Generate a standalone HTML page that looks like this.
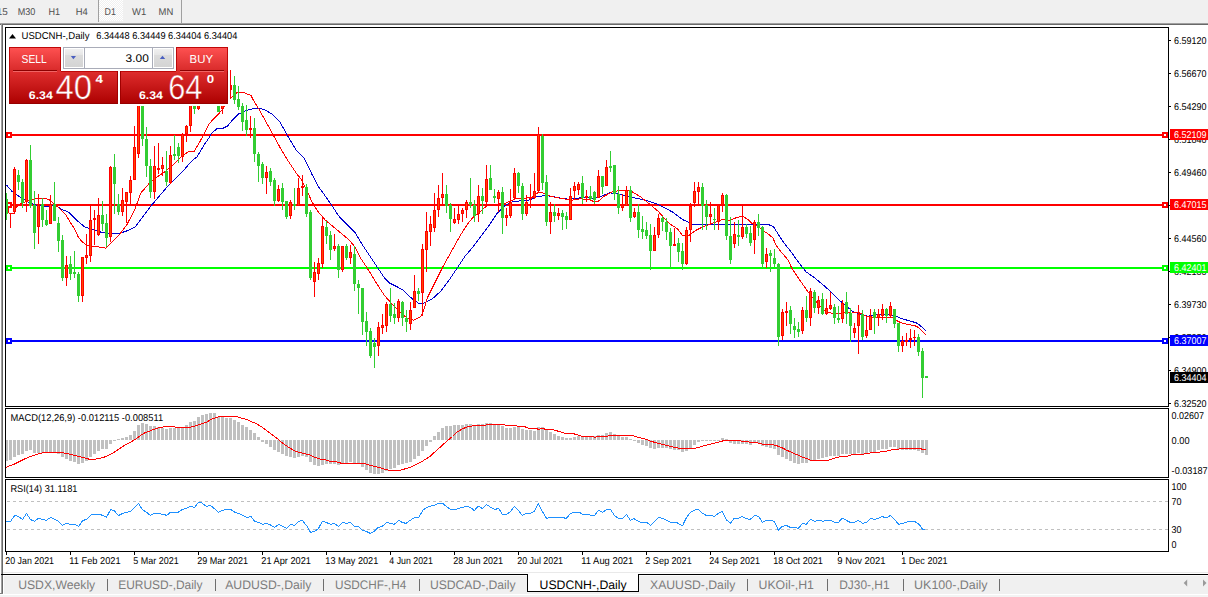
<!DOCTYPE html>
<html><head><meta charset="utf-8"><title>USDCNH Daily</title>
<style>html,body{margin:0;padding:0;background:#fff;overflow:hidden}svg{display:block}text{font-family:"Liberation Sans",sans-serif}</style></head>
<body>
<svg width="1208" height="597" viewBox="0 0 1208 597" font-family="Liberation Sans, sans-serif" text-rendering="geometricPrecision">
<defs><linearGradient id="gbtn" x1="0" y1="0" x2="0" y2="1"><stop offset="0" stop-color="#ff5252"/><stop offset="1" stop-color="#d82a2a"/></linearGradient><linearGradient id="gprice" gradientUnits="userSpaceOnUse" x1="0" y1="71" x2="0" y2="104"><stop offset="0" stop-color="#df2e2e"/><stop offset="1" stop-color="#ac0000"/></linearGradient><linearGradient id="gspin" x1="0" y1="0" x2="0" y2="1"><stop offset="0" stop-color="#f0f0f0"/><stop offset="0.33" stop-color="#e6e6e6"/><stop offset="0.34" stop-color="#dcdcdc"/><stop offset="1" stop-color="#d4d4d4"/></linearGradient><pattern id="chk" width="2" height="2" patternUnits="userSpaceOnUse"><rect width="2" height="2" fill="#f0f0f0"/><rect width="1" height="1" fill="#fff"/><rect x="1" y="1" width="1" height="1" fill="#fff"/></pattern><clipPath id="cm"><rect x="6" y="28" width="1162" height="378"/></clipPath><clipPath id="c2"><rect x="6" y="409" width="1162" height="68"/></clipPath><clipPath id="c3"><rect x="6" y="480" width="1162" height="71"/></clipPath></defs>
<rect x="0" y="0" width="1208" height="597" fill="#ffffff" />
<g shape-rendering="crispEdges">
<rect x="0" y="0" width="1208" height="23" fill="#f0f0f0" />
<rect x="0" y="23" width="1208" height="1" fill="#a0a0a0" />
<rect x="0" y="24" width="1208" height="1" fill="#696969" />
<rect x="0" y="25" width="1" height="550" fill="#ffffff" />
<rect x="1" y="23" width="1" height="571" fill="#a0a0a0" />
<rect x="2" y="24" width="1" height="570" fill="#696969" />
<rect x="3" y="575" width="1205" height="19" fill="#f0f0f0" />
<rect x="3" y="575" width="1205" height="1" fill="#fbfbfb" />
<rect x="0" y="594" width="1208" height="1" fill="#ffffff" />
<rect x="0" y="595" width="1208" height="2" fill="#f3f3f3" />
<rect x="3" y="572" width="1205" height="1" fill="#e9e9e9" />
<rect x="1" y="574" width="1207" height="1" fill="#000000" />
<rect x="3" y="575" width="1" height="19" fill="#ffffff" />
<rect x="0" y="593" width="3" height="1" fill="#808080" />
<rect x="5" y="27" width="1164" height="1" fill="#000" />
<rect x="5" y="406" width="1164" height="1" fill="#000" />
<rect x="5" y="27" width="1" height="380" fill="#000" />
<rect x="1168" y="27" width="1" height="380" fill="#000" />
<rect x="5" y="408" width="1164" height="1" fill="#000" />
<rect x="5" y="477" width="1164" height="1" fill="#000" />
<rect x="5" y="408" width="1" height="70" fill="#000" />
<rect x="1168" y="408" width="1" height="70" fill="#000" />
<rect x="5" y="479" width="1164" height="1" fill="#000" />
<rect x="5" y="551" width="1164" height="1" fill="#000" />
<rect x="5" y="479" width="1" height="73" fill="#000" />
<rect x="1168" y="479" width="1" height="73" fill="#000" />
</g>
<g clip-path="url(#cm)">
<rect x="6" y="134" width="1162" height="2" fill="#ff0000" shape-rendering="crispEdges"/>
<rect x="6" y="204" width="1162" height="2" fill="#ff0000" shape-rendering="crispEdges"/>
<rect x="6" y="267" width="1162" height="2" fill="#00ff00" shape-rendering="crispEdges"/>
<rect x="6" y="340" width="1162" height="2" fill="#0000ff" shape-rendering="crispEdges"/>
<rect x="6" y="132" width="6" height="6" fill="#ff0000" shape-rendering="crispEdges"/>
<rect x="8" y="134" width="2" height="2" fill="#fff" shape-rendering="crispEdges"/>
<rect x="1162" y="132" width="6" height="6" fill="#ff0000" shape-rendering="crispEdges"/>
<rect x="1164" y="134" width="2" height="2" fill="#fff" shape-rendering="crispEdges"/>
<rect x="6" y="202" width="6" height="6" fill="#ff0000" shape-rendering="crispEdges"/>
<rect x="8" y="204" width="2" height="2" fill="#fff" shape-rendering="crispEdges"/>
<rect x="1162" y="202" width="6" height="6" fill="#ff0000" shape-rendering="crispEdges"/>
<rect x="1164" y="204" width="2" height="2" fill="#fff" shape-rendering="crispEdges"/>
<rect x="6" y="265" width="6" height="6" fill="#00ff00" shape-rendering="crispEdges"/>
<rect x="8" y="267" width="2" height="2" fill="#fff" shape-rendering="crispEdges"/>
<rect x="1162" y="265" width="6" height="6" fill="#00ff00" shape-rendering="crispEdges"/>
<rect x="1164" y="267" width="2" height="2" fill="#fff" shape-rendering="crispEdges"/>
<rect x="6" y="338" width="6" height="6" fill="#0000ff" shape-rendering="crispEdges"/>
<rect x="8" y="340" width="2" height="2" fill="#fff" shape-rendering="crispEdges"/>
<rect x="1162" y="338" width="6" height="6" fill="#0000ff" shape-rendering="crispEdges"/>
<rect x="1164" y="340" width="2" height="2" fill="#fff" shape-rendering="crispEdges"/>
<polyline fill="none" stroke="#0000cd" stroke-width="1" stroke-linejoin="round" shape-rendering="crispEdges" points="6.7,185.2 12.0,191.3 20.0,197.2 28.1,202.0 36.2,205.3 44.2,206.6 55.0,205.3 61.6,209.3 68.3,212.0 76.4,220.0 84.4,226.7 92.5,229.4 100.5,232.0 110.0,234.0 119.3,233.5 127.3,230.7 135.4,226.7 143.4,216.0 151.5,205.3 159.5,195.9 167.5,186.5 175.6,178.5 183.6,170.4 191.7,161.0 197.0,157.0 205.0,143.6 208.3,138.9 211.5,133.5 216.9,128.7 223.3,128.1 227.6,126.0 233.0,119.5 238.4,114.1 243.8,111.5 250.0,109.3 256.0,108.2 264.0,109.3 272.1,114.1 280.1,122.2 288.2,136.9 296.2,150.3 304.3,158.4 312.3,175.0 318.0,186.0 322.8,192.5 330.8,204.0 338.9,216.2 346.9,224.2 354.9,232.3 363.0,245.7 371.0,257.7 379.0,269.8 384.4,277.9 389.8,283.2 397.8,287.2 403.2,290.0 408.6,295.8 413.9,300.0 419.3,303.9 424.6,302.8 432.7,298.5 440.7,291.3 448.8,280.5 456.8,268.5 464.9,256.4 472.9,247.0 480.9,236.3 489.0,225.6 497.0,213.5 505.0,205.5 513.1,201.4 521.2,200.9 529.2,200.1 537.2,196.6 545.3,195.5 553.3,196.6 561.4,198.2 569.4,199.3 577.5,198.2 585.5,197.4 593.5,198.2 601.6,196.1 609.6,192.9 617.7,193.6 624.0,195.5 629.6,197.1 638.2,198.5 646.7,200.5 655.3,203.3 664.0,207.4 672.4,212.0 682.4,219.5 692.5,224.2 714.3,224.5 734.4,224.2 751.1,225.0 767.9,224.2 773.7,227.0 777.9,233.7 784.6,243.8 791.3,252.1 799.3,263.4 806.0,271.8 814.4,277.6 824.4,286.0 832.8,293.6 839.5,300.3 846.2,306.1 852.9,311.6 861.3,314.5 868.0,316.2 876.3,315.0 888.0,314.5 894.7,315.3 901.4,318.7 908.1,320.4 916.5,322.9 919.9,325.4 925.7,330.4"/>
<polyline fill="none" stroke="#ff0000" stroke-width="1" stroke-linejoin="round" shape-rendering="crispEdges" points="8.5,207.5 8.5,213.0 14.0,213.0 15.7,207.6 20.7,203.9 26.0,201.5 31.6,199.7 37.5,198.3 44.2,198.3 49.2,199.7 54.2,203.9 58.4,207.6 66.0,215.2 71.0,223.5 75.2,230.0 78.0,236.5 81.7,241.5 87.1,245.5 95.2,246.3 105.9,248.2 111.2,242.8 119.3,234.8 127.3,224.0 135.4,208.0 140.7,193.2 148.8,183.8 156.8,177.1 164.9,171.8 172.9,165.0 181.0,157.0 189.0,151.1 194.4,151.1 199.7,142.0 205.0,132.4 209.3,123.8 212.6,120.0 216.9,115.8 221.2,110.9 224.0,107.0 227.9,102.0 230.0,98.5 232.0,96.9 236.2,93.1 239.5,92.1 243.7,92.2 247.0,93.9 250.8,95.2 252.9,99.4 255.4,103.6 258.7,108.8 265.4,120.8 272.1,132.9 280.1,147.6 288.2,161.0 296.2,173.1 301.6,179.8 306.7,190.0 312.0,202.0 317.4,210.8 325.4,220.2 333.5,226.9 341.5,233.6 349.6,240.3 354.9,247.0 360.3,257.7 368.3,269.8 376.4,283.2 384.4,295.3 392.5,304.7 400.5,312.7 407.2,318.1 413.9,320.2 420.6,316.7 423.3,311.4 427.3,298.0 432.7,287.2 438.0,276.5 443.4,265.8 450.1,253.7 456.8,241.7 462.2,232.3 467.5,224.2 472.9,217.5 478.3,213.5 483.6,208.2 489.0,204.7 497.0,204.1 505.0,203.6 510.4,200.9 515.8,198.8 523.8,198.2 531.9,197.4 538.6,192.0 542.6,192.9 548.0,195.5 556.0,197.4 564.0,198.8 572.1,200.1 580.1,198.8 588.2,199.3 594.9,202.0 598.9,200.9 604.3,196.1 612.3,192.0 619.0,190.7 626.8,190.0 632.5,192.0 641.0,197.1 649.6,204.2 658.1,211.3 664.0,217.8 670.7,224.5 677.4,228.7 682.4,235.4 689.1,235.4 695.8,230.4 702.5,227.0 709.2,224.5 715.9,222.0 722.6,219.5 729.3,220.6 736.0,217.8 742.7,216.1 747.8,219.5 751.1,222.8 757.8,226.2 762.8,230.4 767.9,233.7 772.9,237.9 776.2,245.4 781.3,252.1 788.0,260.0 791.9,268.3 800.5,281.1 808.5,292.7 812.7,297.7 819.4,305.3 824.4,310.3 829.4,312.8 834.5,313.7 844.5,312.8 851.2,312.0 857.9,312.3 862.9,314.5 866.3,316.2 871.3,317.0 878.0,317.8 893.0,317.8 896.4,320.4 901.4,322.9 908.1,324.5 916.5,326.2 919.9,328.7 925.7,334.6"/>
<rect x="228" y="47" width="2" height="57" fill="#fff" shape-rendering="crispEdges"/>
<g shape-rendering="crispEdges">
<rect x="6" y="193" width="1" height="27" fill="#32cd32" />
<rect x="5" y="199" width="3" height="15" fill="#32cd32" />
<rect x="10" y="213" width="1" height="15" fill="#ff0000" />
<rect x="9" y="213" width="3" height="1" fill="#ff0000" />
<rect x="14" y="167" width="1" height="47" fill="#ff0000" />
<rect x="13" y="169" width="3" height="43" fill="#ff0000" />
<rect x="14" y="170" width="1" height="41" fill="#ff4500" />
<rect x="18" y="170" width="1" height="20" fill="#32cd32" />
<rect x="17" y="175" width="3" height="7" fill="#32cd32" />
<rect x="22" y="179" width="1" height="29" fill="#32cd32" />
<rect x="21" y="182" width="3" height="21" fill="#32cd32" />
<rect x="26" y="159" width="1" height="53" fill="#ff0000" />
<rect x="25" y="160" width="3" height="42" fill="#ff0000" />
<rect x="26" y="161" width="1" height="40" fill="#ff4500" />
<rect x="30" y="145" width="1" height="63" fill="#32cd32" />
<rect x="29" y="160" width="3" height="46" fill="#32cd32" />
<rect x="34" y="191" width="1" height="58" fill="#32cd32" />
<rect x="33" y="205" width="3" height="28" fill="#32cd32" />
<rect x="38" y="194" width="1" height="50" fill="#ff0000" />
<rect x="37" y="205" width="3" height="22" fill="#ff0000" />
<rect x="38" y="206" width="1" height="20" fill="#ff4500" />
<rect x="42" y="198" width="1" height="29" fill="#32cd32" />
<rect x="41" y="204" width="3" height="16" fill="#32cd32" />
<rect x="46" y="210" width="1" height="16" fill="#32cd32" />
<rect x="45" y="220" width="3" height="5" fill="#32cd32" />
<rect x="50" y="195" width="1" height="29" fill="#ff0000" />
<rect x="49" y="204" width="3" height="20" fill="#ff0000" />
<rect x="50" y="205" width="1" height="18" fill="#ff4500" />
<rect x="54" y="182" width="1" height="39" fill="#32cd32" />
<rect x="53" y="204" width="3" height="17" fill="#32cd32" />
<rect x="58" y="217" width="1" height="35" fill="#32cd32" />
<rect x="57" y="223" width="3" height="18" fill="#32cd32" />
<rect x="62" y="235" width="1" height="46" fill="#32cd32" />
<rect x="61" y="240" width="3" height="38" fill="#32cd32" />
<rect x="66" y="256" width="1" height="30" fill="#ff0000" />
<rect x="65" y="265" width="3" height="13" fill="#ff0000" />
<rect x="66" y="266" width="1" height="11" fill="#ff4500" />
<rect x="70" y="256" width="1" height="24" fill="#32cd32" />
<rect x="69" y="264" width="3" height="10" fill="#32cd32" />
<rect x="74" y="251" width="1" height="27" fill="#32cd32" />
<rect x="73" y="272" width="3" height="2" fill="#32cd32" />
<rect x="78" y="272" width="1" height="30" fill="#32cd32" />
<rect x="77" y="274" width="3" height="22" fill="#32cd32" />
<rect x="82" y="257" width="1" height="45" fill="#ff0000" />
<rect x="81" y="257" width="3" height="39" fill="#ff0000" />
<rect x="82" y="258" width="1" height="37" fill="#ff4500" />
<rect x="86" y="234" width="1" height="30" fill="#ff0000" />
<rect x="85" y="255" width="3" height="3" fill="#ff0000" />
<rect x="86" y="256" width="1" height="1" fill="#ff4500" />
<rect x="90" y="205" width="1" height="57" fill="#ff0000" />
<rect x="89" y="220" width="3" height="36" fill="#ff0000" />
<rect x="90" y="221" width="1" height="34" fill="#ff4500" />
<rect x="94" y="210" width="1" height="35" fill="#ff0000" />
<rect x="93" y="218" width="3" height="2" fill="#ff0000" />
<rect x="98" y="198" width="1" height="38" fill="#ff0000" />
<rect x="97" y="215" width="3" height="20" fill="#ff0000" />
<rect x="98" y="216" width="1" height="18" fill="#ff4500" />
<rect x="102" y="201" width="1" height="30" fill="#32cd32" />
<rect x="101" y="215" width="3" height="9" fill="#32cd32" />
<rect x="106" y="214" width="1" height="33" fill="#32cd32" />
<rect x="105" y="223" width="3" height="15" fill="#32cd32" />
<rect x="110" y="166" width="1" height="76" fill="#ff0000" />
<rect x="109" y="167" width="3" height="70" fill="#ff0000" />
<rect x="110" y="168" width="1" height="68" fill="#ff4500" />
<rect x="114" y="154" width="1" height="60" fill="#32cd32" />
<rect x="113" y="167" width="3" height="17" fill="#32cd32" />
<rect x="118" y="194" width="1" height="21" fill="#32cd32" />
<rect x="117" y="204" width="3" height="8" fill="#32cd32" />
<rect x="122" y="188" width="1" height="28" fill="#ff0000" />
<rect x="121" y="200" width="3" height="12" fill="#ff0000" />
<rect x="122" y="201" width="1" height="10" fill="#ff4500" />
<rect x="126" y="192" width="1" height="31" fill="#ff0000" />
<rect x="125" y="192" width="3" height="10" fill="#ff0000" />
<rect x="126" y="193" width="1" height="8" fill="#ff4500" />
<rect x="130" y="176" width="1" height="30" fill="#ff0000" />
<rect x="129" y="180" width="3" height="13" fill="#ff0000" />
<rect x="130" y="181" width="1" height="11" fill="#ff4500" />
<rect x="134" y="126" width="1" height="54" fill="#ff0000" />
<rect x="133" y="147" width="3" height="33" fill="#ff0000" />
<rect x="134" y="148" width="1" height="31" fill="#ff4500" />
<rect x="138" y="95" width="1" height="63" fill="#ff0000" />
<rect x="137" y="100" width="3" height="54" fill="#ff0000" />
<rect x="138" y="101" width="1" height="52" fill="#ff4500" />
<rect x="142" y="95" width="1" height="51" fill="#32cd32" />
<rect x="141" y="100" width="3" height="39" fill="#32cd32" />
<rect x="146" y="127" width="1" height="50" fill="#32cd32" />
<rect x="145" y="139" width="3" height="27" fill="#32cd32" />
<rect x="150" y="159" width="1" height="39" fill="#32cd32" />
<rect x="149" y="166" width="3" height="26" fill="#32cd32" />
<rect x="154" y="146" width="1" height="53" fill="#ff0000" />
<rect x="153" y="166" width="3" height="26" fill="#ff0000" />
<rect x="154" y="167" width="1" height="24" fill="#ff4500" />
<rect x="158" y="143" width="1" height="31" fill="#ff0000" />
<rect x="157" y="168" width="3" height="2" fill="#ff0000" />
<rect x="162" y="157" width="1" height="19" fill="#ff0000" />
<rect x="161" y="165" width="3" height="4" fill="#ff0000" />
<rect x="162" y="166" width="1" height="2" fill="#ff4500" />
<rect x="166" y="151" width="1" height="35" fill="#32cd32" />
<rect x="165" y="171" width="3" height="11" fill="#32cd32" />
<rect x="170" y="146" width="1" height="38" fill="#ff0000" />
<rect x="169" y="155" width="3" height="28" fill="#ff0000" />
<rect x="170" y="156" width="1" height="26" fill="#ff4500" />
<rect x="174" y="135" width="1" height="25" fill="#32cd32" />
<rect x="173" y="154" width="3" height="2" fill="#32cd32" />
<rect x="178" y="143" width="1" height="20" fill="#32cd32" />
<rect x="177" y="147" width="3" height="9" fill="#32cd32" />
<rect x="182" y="133" width="1" height="29" fill="#ff0000" />
<rect x="181" y="134" width="3" height="23" fill="#ff0000" />
<rect x="182" y="135" width="1" height="21" fill="#ff4500" />
<rect x="186" y="125" width="1" height="17" fill="#ff0000" />
<rect x="185" y="126" width="3" height="8" fill="#ff0000" />
<rect x="186" y="127" width="1" height="6" fill="#ff4500" />
<rect x="190" y="95" width="1" height="37" fill="#ff0000" />
<rect x="189" y="100" width="3" height="26" fill="#ff0000" />
<rect x="190" y="101" width="1" height="24" fill="#ff4500" />
<rect x="194" y="95" width="1" height="19" fill="#32cd32" />
<rect x="193" y="100" width="3" height="9" fill="#32cd32" />
<rect x="198" y="95" width="1" height="15" fill="#ff0000" />
<rect x="197" y="100" width="3" height="9" fill="#ff0000" />
<rect x="198" y="101" width="1" height="7" fill="#ff4500" />
<rect x="218" y="95" width="1" height="17" fill="#32cd32" />
<rect x="217" y="100" width="3" height="12" fill="#32cd32" />
<rect x="222" y="95" width="1" height="19" fill="#ff0000" />
<rect x="221" y="100" width="3" height="9" fill="#ff0000" />
<rect x="222" y="101" width="1" height="7" fill="#ff4500" />
<rect x="230" y="70" width="1" height="28" fill="#ff0000" />
<rect x="230" y="85" width="2" height="5" fill="#ff0000" />
<rect x="234" y="76" width="1" height="28" fill="#32cd32" />
<rect x="233" y="85" width="3" height="15" fill="#32cd32" />
<rect x="238" y="86" width="1" height="24" fill="#32cd32" />
<rect x="237" y="99" width="3" height="8" fill="#32cd32" />
<rect x="242" y="103" width="1" height="28" fill="#32cd32" />
<rect x="241" y="106" width="3" height="16" fill="#32cd32" />
<rect x="246" y="105" width="1" height="31" fill="#32cd32" />
<rect x="245" y="120" width="3" height="10" fill="#32cd32" />
<rect x="250" y="116" width="1" height="22" fill="#ff0000" />
<rect x="249" y="128" width="3" height="2" fill="#ff0000" />
<rect x="254" y="118" width="1" height="44" fill="#32cd32" />
<rect x="253" y="128" width="3" height="26" fill="#32cd32" />
<rect x="258" y="152" width="1" height="30" fill="#32cd32" />
<rect x="257" y="154" width="3" height="12" fill="#32cd32" />
<rect x="262" y="162" width="1" height="22" fill="#32cd32" />
<rect x="261" y="164" width="3" height="14" fill="#32cd32" />
<rect x="266" y="166" width="1" height="28" fill="#ff0000" />
<rect x="265" y="172" width="3" height="6" fill="#ff0000" />
<rect x="266" y="173" width="1" height="4" fill="#ff4500" />
<rect x="270" y="168" width="1" height="18" fill="#32cd32" />
<rect x="269" y="171" width="3" height="11" fill="#32cd32" />
<rect x="274" y="178" width="1" height="28" fill="#32cd32" />
<rect x="273" y="180" width="3" height="21" fill="#32cd32" />
<rect x="278" y="185" width="1" height="17" fill="#ff0000" />
<rect x="277" y="189" width="3" height="12" fill="#ff0000" />
<rect x="278" y="190" width="1" height="10" fill="#ff4500" />
<rect x="282" y="183" width="1" height="27" fill="#32cd32" />
<rect x="281" y="188" width="3" height="14" fill="#32cd32" />
<rect x="286" y="201" width="1" height="18" fill="#32cd32" />
<rect x="285" y="201" width="3" height="16" fill="#32cd32" />
<rect x="290" y="200" width="1" height="19" fill="#ff0000" />
<rect x="289" y="202" width="3" height="14" fill="#ff0000" />
<rect x="290" y="203" width="1" height="12" fill="#ff4500" />
<rect x="294" y="188" width="1" height="22" fill="#32cd32" />
<rect x="293" y="204" width="3" height="2" fill="#32cd32" />
<rect x="298" y="178" width="1" height="28" fill="#ff0000" />
<rect x="297" y="188" width="3" height="18" fill="#ff0000" />
<rect x="298" y="189" width="1" height="16" fill="#ff4500" />
<rect x="302" y="175" width="1" height="21" fill="#ff0000" />
<rect x="301" y="186" width="3" height="2" fill="#ff0000" />
<rect x="306" y="184" width="1" height="33" fill="#32cd32" />
<rect x="305" y="187" width="3" height="27" fill="#32cd32" />
<rect x="310" y="210" width="1" height="70" fill="#32cd32" />
<rect x="309" y="212" width="3" height="66" fill="#32cd32" />
<rect x="314" y="262" width="1" height="35" fill="#ff0000" />
<rect x="313" y="272" width="3" height="10" fill="#ff0000" />
<rect x="314" y="273" width="1" height="8" fill="#ff4500" />
<rect x="318" y="258" width="1" height="22" fill="#ff0000" />
<rect x="317" y="263" width="3" height="11" fill="#ff0000" />
<rect x="318" y="264" width="1" height="9" fill="#ff4500" />
<rect x="322" y="218" width="1" height="50" fill="#ff0000" />
<rect x="321" y="226" width="3" height="38" fill="#ff0000" />
<rect x="322" y="227" width="1" height="36" fill="#ff4500" />
<rect x="326" y="221" width="1" height="23" fill="#32cd32" />
<rect x="325" y="227" width="3" height="9" fill="#32cd32" />
<rect x="330" y="231" width="1" height="29" fill="#32cd32" />
<rect x="329" y="235" width="3" height="15" fill="#32cd32" />
<rect x="334" y="234" width="1" height="17" fill="#ff0000" />
<rect x="333" y="246" width="3" height="3" fill="#ff0000" />
<rect x="334" y="247" width="1" height="1" fill="#ff4500" />
<rect x="338" y="244" width="1" height="34" fill="#32cd32" />
<rect x="337" y="246" width="3" height="24" fill="#32cd32" />
<rect x="342" y="246" width="1" height="26" fill="#ff0000" />
<rect x="341" y="246" width="3" height="24" fill="#ff0000" />
<rect x="342" y="247" width="1" height="22" fill="#ff4500" />
<rect x="346" y="244" width="1" height="16" fill="#32cd32" />
<rect x="345" y="246" width="3" height="12" fill="#32cd32" />
<rect x="350" y="245" width="1" height="19" fill="#ff0000" />
<rect x="349" y="252" width="3" height="6" fill="#ff0000" />
<rect x="350" y="253" width="1" height="4" fill="#ff4500" />
<rect x="354" y="246" width="1" height="45" fill="#32cd32" />
<rect x="353" y="254" width="3" height="30" fill="#32cd32" />
<rect x="358" y="280" width="1" height="34" fill="#32cd32" />
<rect x="357" y="284" width="3" height="4" fill="#32cd32" />
<rect x="362" y="288" width="1" height="47" fill="#32cd32" />
<rect x="361" y="288" width="3" height="34" fill="#32cd32" />
<rect x="366" y="312" width="1" height="34" fill="#32cd32" />
<rect x="365" y="321" width="3" height="11" fill="#32cd32" />
<rect x="370" y="328" width="1" height="30" fill="#32cd32" />
<rect x="369" y="331" width="3" height="25" fill="#32cd32" />
<rect x="374" y="338" width="1" height="30" fill="#32cd32" />
<rect x="373" y="343" width="3" height="4" fill="#32cd32" />
<rect x="378" y="322" width="1" height="34" fill="#ff0000" />
<rect x="377" y="327" width="3" height="19" fill="#ff0000" />
<rect x="378" y="328" width="1" height="17" fill="#ff4500" />
<rect x="382" y="314" width="1" height="20" fill="#ff0000" />
<rect x="381" y="325" width="3" height="3" fill="#ff0000" />
<rect x="382" y="326" width="1" height="1" fill="#ff4500" />
<rect x="386" y="302" width="1" height="30" fill="#ff0000" />
<rect x="385" y="304" width="3" height="22" fill="#ff0000" />
<rect x="386" y="305" width="1" height="20" fill="#ff4500" />
<rect x="390" y="288" width="1" height="34" fill="#32cd32" />
<rect x="389" y="304" width="3" height="12" fill="#32cd32" />
<rect x="394" y="303" width="1" height="21" fill="#32cd32" />
<rect x="393" y="314" width="3" height="4" fill="#32cd32" />
<rect x="398" y="299" width="1" height="23" fill="#ff0000" />
<rect x="397" y="301" width="3" height="17" fill="#ff0000" />
<rect x="398" y="302" width="1" height="15" fill="#ff4500" />
<rect x="402" y="301" width="1" height="25" fill="#32cd32" />
<rect x="401" y="302" width="3" height="16" fill="#32cd32" />
<rect x="406" y="310" width="1" height="22" fill="#32cd32" />
<rect x="405" y="318" width="3" height="4" fill="#32cd32" />
<rect x="410" y="302" width="1" height="28" fill="#ff0000" />
<rect x="409" y="310" width="3" height="14" fill="#ff0000" />
<rect x="410" y="311" width="1" height="12" fill="#ff4500" />
<rect x="414" y="275" width="1" height="33" fill="#ff0000" />
<rect x="413" y="291" width="3" height="17" fill="#ff0000" />
<rect x="414" y="292" width="1" height="15" fill="#ff4500" />
<rect x="418" y="288" width="1" height="13" fill="#32cd32" />
<rect x="417" y="291" width="3" height="3" fill="#32cd32" />
<rect x="422" y="244" width="1" height="72" fill="#ff0000" />
<rect x="421" y="249" width="3" height="44" fill="#ff0000" />
<rect x="422" y="250" width="1" height="42" fill="#ff4500" />
<rect x="426" y="212" width="1" height="60" fill="#ff0000" />
<rect x="425" y="231" width="3" height="19" fill="#ff0000" />
<rect x="426" y="232" width="1" height="17" fill="#ff4500" />
<rect x="430" y="216" width="1" height="30" fill="#ff0000" />
<rect x="429" y="224" width="3" height="8" fill="#ff0000" />
<rect x="430" y="225" width="1" height="6" fill="#ff4500" />
<rect x="434" y="193" width="1" height="39" fill="#ff0000" />
<rect x="433" y="210" width="3" height="18" fill="#ff0000" />
<rect x="434" y="211" width="1" height="16" fill="#ff4500" />
<rect x="438" y="185" width="1" height="32" fill="#ff0000" />
<rect x="437" y="198" width="3" height="12" fill="#ff0000" />
<rect x="438" y="199" width="1" height="10" fill="#ff4500" />
<rect x="442" y="173" width="1" height="31" fill="#ff0000" />
<rect x="441" y="194" width="3" height="4" fill="#ff0000" />
<rect x="442" y="195" width="1" height="2" fill="#ff4500" />
<rect x="446" y="185" width="1" height="28" fill="#32cd32" />
<rect x="445" y="194" width="3" height="12" fill="#32cd32" />
<rect x="450" y="203" width="1" height="29" fill="#32cd32" />
<rect x="449" y="205" width="3" height="14" fill="#32cd32" />
<rect x="454" y="208" width="1" height="16" fill="#ff0000" />
<rect x="453" y="219" width="3" height="4" fill="#ff0000" />
<rect x="454" y="220" width="1" height="2" fill="#ff4500" />
<rect x="458" y="206" width="1" height="18" fill="#ff0000" />
<rect x="457" y="214" width="3" height="6" fill="#ff0000" />
<rect x="458" y="215" width="1" height="4" fill="#ff4500" />
<rect x="462" y="208" width="1" height="14" fill="#ff0000" />
<rect x="461" y="210" width="3" height="4" fill="#ff0000" />
<rect x="462" y="211" width="1" height="2" fill="#ff4500" />
<rect x="466" y="200" width="1" height="18" fill="#ff0000" />
<rect x="465" y="202" width="3" height="8" fill="#ff0000" />
<rect x="466" y="203" width="1" height="6" fill="#ff4500" />
<rect x="470" y="178" width="1" height="30" fill="#32cd32" />
<rect x="469" y="202" width="3" height="3" fill="#32cd32" />
<rect x="474" y="200" width="1" height="22" fill="#32cd32" />
<rect x="473" y="205" width="3" height="11" fill="#32cd32" />
<rect x="478" y="185" width="1" height="37" fill="#ff0000" />
<rect x="477" y="196" width="3" height="18" fill="#ff0000" />
<rect x="478" y="197" width="1" height="16" fill="#ff4500" />
<rect x="482" y="188" width="1" height="26" fill="#32cd32" />
<rect x="481" y="196" width="3" height="5" fill="#32cd32" />
<rect x="486" y="165" width="1" height="39" fill="#ff0000" />
<rect x="485" y="179" width="3" height="23" fill="#ff0000" />
<rect x="486" y="180" width="1" height="21" fill="#ff4500" />
<rect x="490" y="165" width="1" height="25" fill="#32cd32" />
<rect x="489" y="178" width="3" height="12" fill="#32cd32" />
<rect x="494" y="189" width="1" height="14" fill="#32cd32" />
<rect x="493" y="196" width="3" height="2" fill="#32cd32" />
<rect x="498" y="190" width="1" height="22" fill="#ff0000" />
<rect x="497" y="192" width="3" height="7" fill="#ff0000" />
<rect x="498" y="193" width="1" height="5" fill="#ff4500" />
<rect x="502" y="187" width="1" height="47" fill="#32cd32" />
<rect x="501" y="192" width="3" height="26" fill="#32cd32" />
<rect x="506" y="208" width="1" height="18" fill="#ff0000" />
<rect x="505" y="215" width="3" height="3" fill="#ff0000" />
<rect x="506" y="216" width="1" height="1" fill="#ff4500" />
<rect x="510" y="189" width="1" height="29" fill="#ff0000" />
<rect x="509" y="202" width="3" height="14" fill="#ff0000" />
<rect x="510" y="203" width="1" height="12" fill="#ff4500" />
<rect x="514" y="168" width="1" height="32" fill="#ff0000" />
<rect x="513" y="173" width="3" height="25" fill="#ff0000" />
<rect x="514" y="174" width="1" height="23" fill="#ff4500" />
<rect x="518" y="172" width="1" height="21" fill="#32cd32" />
<rect x="517" y="173" width="3" height="13" fill="#32cd32" />
<rect x="522" y="183" width="1" height="37" fill="#32cd32" />
<rect x="521" y="186" width="3" height="28" fill="#32cd32" />
<rect x="526" y="195" width="1" height="21" fill="#ff0000" />
<rect x="525" y="202" width="3" height="12" fill="#ff0000" />
<rect x="526" y="203" width="1" height="10" fill="#ff4500" />
<rect x="530" y="184" width="1" height="24" fill="#ff0000" />
<rect x="529" y="198" width="3" height="1" fill="#ff0000" />
<rect x="534" y="173" width="1" height="26" fill="#ff0000" />
<rect x="533" y="191" width="3" height="7" fill="#ff0000" />
<rect x="534" y="192" width="1" height="5" fill="#ff4500" />
<rect x="538" y="127" width="1" height="65" fill="#ff0000" />
<rect x="537" y="134" width="3" height="57" fill="#ff0000" />
<rect x="538" y="135" width="1" height="55" fill="#ff4500" />
<rect x="542" y="134" width="1" height="56" fill="#32cd32" />
<rect x="541" y="136" width="3" height="47" fill="#32cd32" />
<rect x="546" y="175" width="1" height="51" fill="#32cd32" />
<rect x="545" y="182" width="3" height="40" fill="#32cd32" />
<rect x="550" y="202" width="1" height="32" fill="#ff0000" />
<rect x="549" y="212" width="3" height="10" fill="#ff0000" />
<rect x="550" y="213" width="1" height="8" fill="#ff4500" />
<rect x="554" y="204" width="1" height="18" fill="#32cd32" />
<rect x="553" y="212" width="3" height="4" fill="#32cd32" />
<rect x="558" y="208" width="1" height="12" fill="#ff0000" />
<rect x="557" y="213" width="3" height="3" fill="#ff0000" />
<rect x="558" y="214" width="1" height="1" fill="#ff4500" />
<rect x="562" y="210" width="1" height="20" fill="#32cd32" />
<rect x="561" y="213" width="3" height="4" fill="#32cd32" />
<rect x="566" y="212" width="1" height="17" fill="#32cd32" />
<rect x="565" y="216" width="3" height="4" fill="#32cd32" />
<rect x="570" y="188" width="1" height="32" fill="#ff0000" />
<rect x="569" y="196" width="3" height="24" fill="#ff0000" />
<rect x="570" y="197" width="1" height="22" fill="#ff4500" />
<rect x="574" y="182" width="1" height="18" fill="#ff0000" />
<rect x="573" y="186" width="3" height="5" fill="#ff0000" />
<rect x="574" y="187" width="1" height="3" fill="#ff4500" />
<rect x="578" y="182" width="1" height="13" fill="#ff0000" />
<rect x="577" y="184" width="3" height="6" fill="#ff0000" />
<rect x="578" y="185" width="1" height="4" fill="#ff4500" />
<rect x="582" y="176" width="1" height="28" fill="#32cd32" />
<rect x="581" y="183" width="3" height="15" fill="#32cd32" />
<rect x="586" y="190" width="1" height="12" fill="#ff0000" />
<rect x="585" y="196" width="3" height="2" fill="#ff0000" />
<rect x="590" y="186" width="1" height="14" fill="#32cd32" />
<rect x="589" y="196" width="3" height="3" fill="#32cd32" />
<rect x="594" y="191" width="1" height="13" fill="#32cd32" />
<rect x="593" y="192" width="3" height="8" fill="#32cd32" />
<rect x="598" y="170" width="1" height="28" fill="#ff0000" />
<rect x="597" y="176" width="3" height="22" fill="#ff0000" />
<rect x="598" y="177" width="1" height="20" fill="#ff4500" />
<rect x="602" y="176" width="1" height="18" fill="#32cd32" />
<rect x="601" y="176" width="3" height="11" fill="#32cd32" />
<rect x="606" y="160" width="1" height="26" fill="#ff0000" />
<rect x="605" y="167" width="3" height="19" fill="#ff0000" />
<rect x="606" y="168" width="1" height="17" fill="#ff4500" />
<rect x="610" y="151" width="1" height="21" fill="#32cd32" />
<rect x="609" y="166" width="3" height="2" fill="#32cd32" />
<rect x="614" y="165" width="1" height="35" fill="#32cd32" />
<rect x="613" y="165" width="3" height="29" fill="#32cd32" />
<rect x="618" y="186" width="1" height="28" fill="#32cd32" />
<rect x="617" y="194" width="3" height="14" fill="#32cd32" />
<rect x="622" y="194" width="1" height="17" fill="#ff0000" />
<rect x="621" y="205" width="3" height="3" fill="#ff0000" />
<rect x="622" y="206" width="1" height="1" fill="#ff4500" />
<rect x="626" y="186" width="1" height="20" fill="#ff0000" />
<rect x="625" y="190" width="3" height="16" fill="#ff0000" />
<rect x="626" y="191" width="1" height="14" fill="#ff4500" />
<rect x="630" y="186" width="1" height="36" fill="#32cd32" />
<rect x="629" y="190" width="3" height="28" fill="#32cd32" />
<rect x="634" y="208" width="1" height="10" fill="#ff0000" />
<rect x="633" y="212" width="3" height="5" fill="#ff0000" />
<rect x="634" y="213" width="1" height="3" fill="#ff4500" />
<rect x="638" y="204" width="1" height="34" fill="#32cd32" />
<rect x="637" y="212" width="3" height="18" fill="#32cd32" />
<rect x="642" y="216" width="1" height="23" fill="#32cd32" />
<rect x="641" y="229" width="3" height="3" fill="#32cd32" />
<rect x="646" y="222" width="1" height="17" fill="#32cd32" />
<rect x="645" y="230" width="3" height="6" fill="#32cd32" />
<rect x="650" y="224" width="1" height="46" fill="#32cd32" />
<rect x="649" y="235" width="3" height="16" fill="#32cd32" />
<rect x="654" y="227" width="1" height="24" fill="#ff0000" />
<rect x="653" y="235" width="3" height="16" fill="#ff0000" />
<rect x="654" y="236" width="1" height="14" fill="#ff4500" />
<rect x="658" y="214" width="1" height="24" fill="#ff0000" />
<rect x="657" y="218" width="3" height="17" fill="#ff0000" />
<rect x="658" y="219" width="1" height="15" fill="#ff4500" />
<rect x="662" y="216" width="1" height="15" fill="#32cd32" />
<rect x="661" y="218" width="3" height="4" fill="#32cd32" />
<rect x="666" y="218" width="1" height="22" fill="#32cd32" />
<rect x="665" y="222" width="3" height="10" fill="#32cd32" />
<rect x="670" y="228" width="1" height="40" fill="#32cd32" />
<rect x="669" y="232" width="3" height="14" fill="#32cd32" />
<rect x="674" y="228" width="1" height="18" fill="#ff0000" />
<rect x="673" y="244" width="3" height="2" fill="#ff0000" />
<rect x="678" y="238" width="1" height="24" fill="#32cd32" />
<rect x="677" y="243" width="3" height="9" fill="#32cd32" />
<rect x="682" y="243" width="1" height="27" fill="#32cd32" />
<rect x="681" y="251" width="3" height="13" fill="#32cd32" />
<rect x="686" y="227" width="1" height="38" fill="#ff0000" />
<rect x="685" y="230" width="3" height="34" fill="#ff0000" />
<rect x="686" y="231" width="1" height="32" fill="#ff4500" />
<rect x="690" y="203" width="1" height="39" fill="#ff0000" />
<rect x="689" y="206" width="3" height="24" fill="#ff0000" />
<rect x="690" y="207" width="1" height="22" fill="#ff4500" />
<rect x="694" y="182" width="1" height="25" fill="#ff0000" />
<rect x="693" y="191" width="3" height="12" fill="#ff0000" />
<rect x="694" y="192" width="1" height="10" fill="#ff4500" />
<rect x="698" y="182" width="1" height="23" fill="#ff0000" />
<rect x="697" y="187" width="3" height="5" fill="#ff0000" />
<rect x="698" y="188" width="1" height="3" fill="#ff4500" />
<rect x="702" y="183" width="1" height="47" fill="#32cd32" />
<rect x="701" y="187" width="3" height="19" fill="#32cd32" />
<rect x="706" y="200" width="1" height="30" fill="#32cd32" />
<rect x="705" y="205" width="3" height="12" fill="#32cd32" />
<rect x="710" y="202" width="1" height="22" fill="#ff0000" />
<rect x="709" y="214" width="3" height="3" fill="#ff0000" />
<rect x="710" y="215" width="1" height="1" fill="#ff4500" />
<rect x="714" y="208" width="1" height="22" fill="#32cd32" />
<rect x="713" y="219" width="3" height="1" fill="#32cd32" />
<rect x="718" y="205" width="1" height="25" fill="#ff0000" />
<rect x="717" y="205" width="3" height="17" fill="#ff0000" />
<rect x="718" y="206" width="1" height="15" fill="#ff4500" />
<rect x="722" y="193" width="1" height="19" fill="#ff0000" />
<rect x="721" y="195" width="3" height="10" fill="#ff0000" />
<rect x="722" y="196" width="1" height="8" fill="#ff4500" />
<rect x="726" y="194" width="1" height="46" fill="#32cd32" />
<rect x="725" y="195" width="3" height="41" fill="#32cd32" />
<rect x="730" y="217" width="1" height="47" fill="#32cd32" />
<rect x="729" y="236" width="3" height="24" fill="#32cd32" />
<rect x="734" y="222" width="1" height="26" fill="#ff0000" />
<rect x="733" y="234" width="3" height="10" fill="#ff0000" />
<rect x="734" y="235" width="1" height="8" fill="#ff4500" />
<rect x="738" y="220" width="1" height="26" fill="#32cd32" />
<rect x="737" y="235" width="3" height="2" fill="#32cd32" />
<rect x="742" y="205" width="1" height="34" fill="#ff0000" />
<rect x="741" y="227" width="3" height="10" fill="#ff0000" />
<rect x="742" y="228" width="1" height="8" fill="#ff4500" />
<rect x="746" y="224" width="1" height="14" fill="#32cd32" />
<rect x="745" y="227" width="3" height="7" fill="#32cd32" />
<rect x="750" y="226" width="1" height="20" fill="#32cd32" />
<rect x="749" y="233" width="3" height="10" fill="#32cd32" />
<rect x="754" y="220" width="1" height="34" fill="#ff0000" />
<rect x="753" y="222" width="3" height="18" fill="#ff0000" />
<rect x="754" y="223" width="1" height="16" fill="#ff4500" />
<rect x="758" y="214" width="1" height="22" fill="#32cd32" />
<rect x="757" y="222" width="3" height="6" fill="#32cd32" />
<rect x="762" y="226" width="1" height="42" fill="#32cd32" />
<rect x="761" y="227" width="3" height="37" fill="#32cd32" />
<rect x="766" y="248" width="1" height="20" fill="#ff0000" />
<rect x="765" y="254" width="3" height="8" fill="#ff0000" />
<rect x="766" y="255" width="1" height="6" fill="#ff4500" />
<rect x="770" y="250" width="1" height="22" fill="#32cd32" />
<rect x="769" y="253" width="3" height="3" fill="#32cd32" />
<rect x="774" y="249" width="1" height="18" fill="#32cd32" />
<rect x="773" y="258" width="3" height="6" fill="#32cd32" />
<rect x="778" y="263" width="1" height="83" fill="#32cd32" />
<rect x="777" y="264" width="3" height="73" fill="#32cd32" />
<rect x="782" y="309" width="1" height="31" fill="#ff0000" />
<rect x="781" y="312" width="3" height="24" fill="#ff0000" />
<rect x="782" y="313" width="1" height="22" fill="#ff4500" />
<rect x="786" y="302" width="1" height="24" fill="#ff0000" />
<rect x="785" y="311" width="3" height="2" fill="#ff0000" />
<rect x="790" y="306" width="1" height="28" fill="#32cd32" />
<rect x="789" y="310" width="3" height="14" fill="#32cd32" />
<rect x="794" y="318" width="1" height="20" fill="#32cd32" />
<rect x="793" y="326" width="3" height="4" fill="#32cd32" />
<rect x="798" y="322" width="1" height="15" fill="#32cd32" />
<rect x="797" y="329" width="3" height="3" fill="#32cd32" />
<rect x="802" y="307" width="1" height="27" fill="#ff0000" />
<rect x="801" y="310" width="3" height="21" fill="#ff0000" />
<rect x="802" y="311" width="1" height="19" fill="#ff4500" />
<rect x="806" y="296" width="1" height="26" fill="#32cd32" />
<rect x="805" y="310" width="3" height="8" fill="#32cd32" />
<rect x="810" y="288" width="1" height="38" fill="#ff0000" />
<rect x="809" y="291" width="3" height="27" fill="#ff0000" />
<rect x="810" y="292" width="1" height="25" fill="#ff4500" />
<rect x="814" y="290" width="1" height="23" fill="#32cd32" />
<rect x="813" y="292" width="3" height="16" fill="#32cd32" />
<rect x="818" y="296" width="1" height="18" fill="#ff0000" />
<rect x="817" y="300" width="3" height="8" fill="#ff0000" />
<rect x="818" y="301" width="1" height="6" fill="#ff4500" />
<rect x="822" y="293" width="1" height="22" fill="#32cd32" />
<rect x="821" y="299" width="3" height="15" fill="#32cd32" />
<rect x="826" y="299" width="1" height="16" fill="#ff0000" />
<rect x="825" y="308" width="3" height="6" fill="#ff0000" />
<rect x="826" y="309" width="1" height="4" fill="#ff4500" />
<rect x="830" y="292" width="1" height="18" fill="#ff0000" />
<rect x="829" y="305" width="3" height="4" fill="#ff0000" />
<rect x="830" y="306" width="1" height="2" fill="#ff4500" />
<rect x="834" y="304" width="1" height="20" fill="#32cd32" />
<rect x="833" y="307" width="3" height="11" fill="#32cd32" />
<rect x="838" y="306" width="1" height="17" fill="#32cd32" />
<rect x="837" y="318" width="3" height="2" fill="#32cd32" />
<rect x="842" y="300" width="1" height="23" fill="#ff0000" />
<rect x="841" y="303" width="3" height="16" fill="#ff0000" />
<rect x="842" y="304" width="1" height="14" fill="#ff4500" />
<rect x="846" y="292" width="1" height="32" fill="#32cd32" />
<rect x="845" y="302" width="3" height="12" fill="#32cd32" />
<rect x="850" y="308" width="1" height="34" fill="#32cd32" />
<rect x="849" y="313" width="3" height="13" fill="#32cd32" />
<rect x="854" y="323" width="1" height="15" fill="#ff0000" />
<rect x="853" y="328" width="3" height="5" fill="#ff0000" />
<rect x="854" y="329" width="1" height="3" fill="#ff4500" />
<rect x="858" y="305" width="1" height="49" fill="#ff0000" />
<rect x="857" y="314" width="3" height="12" fill="#ff0000" />
<rect x="858" y="315" width="1" height="10" fill="#ff4500" />
<rect x="862" y="310" width="1" height="30" fill="#32cd32" />
<rect x="861" y="314" width="3" height="23" fill="#32cd32" />
<rect x="866" y="316" width="1" height="22" fill="#ff0000" />
<rect x="865" y="330" width="3" height="6" fill="#ff0000" />
<rect x="866" y="331" width="1" height="4" fill="#ff4500" />
<rect x="870" y="309" width="1" height="21" fill="#ff0000" />
<rect x="869" y="316" width="3" height="14" fill="#ff0000" />
<rect x="870" y="317" width="1" height="12" fill="#ff4500" />
<rect x="874" y="309" width="1" height="25" fill="#32cd32" />
<rect x="873" y="312" width="3" height="6" fill="#32cd32" />
<rect x="878" y="309" width="1" height="17" fill="#ff0000" />
<rect x="877" y="314" width="3" height="4" fill="#ff0000" />
<rect x="878" y="315" width="1" height="2" fill="#ff4500" />
<rect x="882" y="304" width="1" height="16" fill="#ff0000" />
<rect x="881" y="309" width="3" height="7" fill="#ff0000" />
<rect x="882" y="310" width="1" height="5" fill="#ff4500" />
<rect x="886" y="308" width="1" height="15" fill="#32cd32" />
<rect x="885" y="309" width="3" height="7" fill="#32cd32" />
<rect x="890" y="302" width="1" height="16" fill="#ff0000" />
<rect x="889" y="306" width="3" height="10" fill="#ff0000" />
<rect x="890" y="307" width="1" height="8" fill="#ff4500" />
<rect x="894" y="309" width="1" height="19" fill="#32cd32" />
<rect x="893" y="309" width="3" height="15" fill="#32cd32" />
<rect x="898" y="323" width="1" height="29" fill="#32cd32" />
<rect x="897" y="323" width="3" height="23" fill="#32cd32" />
<rect x="902" y="336" width="1" height="16" fill="#ff0000" />
<rect x="901" y="341" width="3" height="5" fill="#ff0000" />
<rect x="902" y="342" width="1" height="3" fill="#ff4500" />
<rect x="906" y="333" width="1" height="13" fill="#ff0000" />
<rect x="905" y="340" width="3" height="2" fill="#ff0000" />
<rect x="910" y="329" width="1" height="19" fill="#ff0000" />
<rect x="909" y="338" width="3" height="2" fill="#ff0000" />
<rect x="914" y="330" width="1" height="16" fill="#ff0000" />
<rect x="913" y="337" width="3" height="1" fill="#ff0000" />
<rect x="918" y="334" width="1" height="22" fill="#32cd32" />
<rect x="917" y="337" width="3" height="15" fill="#32cd32" />
<rect x="922" y="348" width="1" height="50" fill="#32cd32" />
<rect x="921" y="351" width="3" height="27" fill="#32cd32" />
<rect x="925" y="376" width="3" height="2" fill="#32cd32" />
</g>
</g>
<path d="M9,38.5 L12.5,34 L16,38.5 Z" fill="#000"/>
<text x="21.5" y="39" font-size="9.9" fill="#000" textLength="68" lengthAdjust="spacingAndGlyphs" >USDCNH-,Daily</text>
<text x="96.3" y="39" font-size="9.9" fill="#000" textLength="141" lengthAdjust="spacingAndGlyphs" >6.34448 6.34449 6.34404 6.34404</text>
<g shape-rendering="crispEdges">
<rect x="8" y="45" width="222" height="61" fill="#ffffff" />
<rect x="9" y="71" width="109" height="33" fill="url(#gprice)" />
<rect x="120" y="71" width="108" height="33" fill="url(#gprice)" />
<rect x="9" y="47" width="52" height="24" fill="url(#gbtn)" />
<rect x="176" y="47" width="52" height="24" fill="url(#gbtn)" />
<rect x="9" y="47" width="52" height="1" fill="#bf0808" />
<rect x="9" y="47" width="1" height="24" fill="#bf0808" />
<rect x="60" y="47" width="1" height="24" fill="#bf0808" />
<rect x="176" y="47" width="52" height="1" fill="#bf0808" />
<rect x="176" y="47" width="1" height="24" fill="#bf0808" />
<rect x="227" y="47" width="1" height="24" fill="#bf0808" />
<rect x="61" y="71" width="57" height="1" fill="#bf0808" />
<rect x="120" y="71" width="56" height="1" fill="#bf0808" />
<rect x="9" y="71" width="1" height="33" fill="#a00000" />
<rect x="117" y="71" width="1" height="33" fill="#a00000" />
<rect x="120" y="71" width="1" height="33" fill="#a00000" />
<rect x="227" y="71" width="1" height="33" fill="#a00000" />
<rect x="9" y="103" width="109" height="1" fill="#960000" />
<rect x="120" y="103" width="108" height="1" fill="#960000" />
<rect x="13" y="70" width="44" height="1" fill="#8c0000" />
<rect x="13" y="71" width="44" height="1" fill="#f06464" />
<rect x="180" y="70" width="44" height="1" fill="#8c0000" />
<rect x="180" y="71" width="44" height="1" fill="#f06464" />
<rect x="63" y="47" width="111" height="22" fill="#a9acb8" />
<rect x="64" y="48" width="109" height="20" fill="#ffffff" />
<rect x="65" y="49" width="18" height="18" fill="url(#gspin)" />
<rect x="84" y="48" width="1" height="20" fill="#a9acb8" />
<rect x="154" y="49" width="18" height="18" fill="url(#gspin)" />
<rect x="152" y="48" width="1" height="20" fill="#a9acb8" />
</g>
<path d="M70.8,56 L76,56 L73.4,59.2 Z" fill="#4a5fc0"/>
<path d="M159.8,59 L165.2,59 L162.5,55.8 Z" fill="#4a5fc0"/>
<text x="21.6" y="62.7" font-size="11.6" fill="#fff" textLength="25.2" lengthAdjust="spacingAndGlyphs" >SELL</text>
<text x="189.6" y="62.7" font-size="11.6" fill="#fff" textLength="23.4" lengthAdjust="spacingAndGlyphs" >BUY</text>
<text x="125.6" y="61.6" font-size="11.2" fill="#000" textLength="23.2" lengthAdjust="spacingAndGlyphs" >3.00</text>
<text x="28.8" y="98.8" font-size="11" fill="#fff" font-weight="bold" textLength="24" lengthAdjust="spacingAndGlyphs" >6.34</text>
<text x="138.9" y="98.8" font-size="11" fill="#fff" font-weight="bold" textLength="24" lengthAdjust="spacingAndGlyphs" >6.34</text>
<text x="55.4" y="99.3" font-size="34.4" fill="#fff" textLength="36.5" lengthAdjust="spacingAndGlyphs" stroke="url(#gprice)" stroke-width="0.45">40</text>
<text x="168.2" y="99.3" font-size="34.4" fill="#fff" textLength="34.2" lengthAdjust="spacingAndGlyphs" stroke="url(#gprice)" stroke-width="0.45">64</text>
<text x="95.6" y="82.9" font-size="11.6" fill="#fff" font-weight="bold" textLength="7.4" lengthAdjust="spacingAndGlyphs" >4</text>
<text x="206.8" y="82.9" font-size="11.6" fill="#fff" font-weight="bold" textLength="7.4" lengthAdjust="spacingAndGlyphs" >0</text>
<g shape-rendering="crispEdges">
<rect x="1169" y="40" width="2" height="1" fill="#000" />
<rect x="1169" y="73" width="2" height="1" fill="#000" />
<rect x="1169" y="106" width="2" height="1" fill="#000" />
<rect x="1169" y="139" width="2" height="1" fill="#000" />
<rect x="1169" y="172" width="2" height="1" fill="#000" />
<rect x="1169" y="205" width="2" height="1" fill="#000" />
<rect x="1169" y="238" width="2" height="1" fill="#000" />
<rect x="1169" y="271" width="2" height="1" fill="#000" />
<rect x="1169" y="304" width="2" height="1" fill="#000" />
<rect x="1169" y="337" width="2" height="1" fill="#000" />
<rect x="1169" y="370" width="2" height="1" fill="#000" />
<rect x="1169" y="403" width="2" height="1" fill="#000" />
</g>
<text x="1174" y="43.9" font-size="9.9" fill="#000" textLength="32.5" lengthAdjust="spacingAndGlyphs" >6.59120</text>
<text x="1174" y="76.9" font-size="9.9" fill="#000" textLength="32.5" lengthAdjust="spacingAndGlyphs" >6.56670</text>
<text x="1174" y="109.9" font-size="9.9" fill="#000" textLength="32.5" lengthAdjust="spacingAndGlyphs" >6.54290</text>
<text x="1174" y="142.9" font-size="9.9" fill="#000" textLength="32.5" lengthAdjust="spacingAndGlyphs" >6.51840</text>
<text x="1174" y="175.9" font-size="9.9" fill="#000" textLength="32.5" lengthAdjust="spacingAndGlyphs" >6.49460</text>
<text x="1174" y="208.9" font-size="9.9" fill="#000" textLength="32.5" lengthAdjust="spacingAndGlyphs" >6.47080</text>
<text x="1174" y="241.9" font-size="9.9" fill="#000" textLength="32.5" lengthAdjust="spacingAndGlyphs" >6.44560</text>
<text x="1174" y="274.9" font-size="9.9" fill="#000" textLength="32.5" lengthAdjust="spacingAndGlyphs" >6.42180</text>
<text x="1174" y="307.9" font-size="9.9" fill="#000" textLength="32.5" lengthAdjust="spacingAndGlyphs" >6.39730</text>
<text x="1174" y="340.9" font-size="9.9" fill="#000" textLength="32.5" lengthAdjust="spacingAndGlyphs" >6.37350</text>
<text x="1174" y="373.9" font-size="9.9" fill="#000" textLength="32.5" lengthAdjust="spacingAndGlyphs" >6.34900</text>
<text x="1174" y="406.9" font-size="9.9" fill="#000" textLength="32.5" lengthAdjust="spacingAndGlyphs" >6.32520</text>
<rect x="1170" y="129" width="38" height="11" fill="#ff0000" shape-rendering="crispEdges"/>
<text x="1174" y="137.9" font-size="9.9" fill="#fff" textLength="32.5" lengthAdjust="spacingAndGlyphs" >6.52109</text>
<rect x="1170" y="199" width="38" height="11" fill="#ff0000" shape-rendering="crispEdges"/>
<text x="1174" y="207.9" font-size="9.9" fill="#fff" textLength="32.5" lengthAdjust="spacingAndGlyphs" >6.47015</text>
<rect x="1170" y="262" width="38" height="11" fill="#00ff00" shape-rendering="crispEdges"/>
<text x="1174" y="270.9" font-size="9.9" fill="#fff" textLength="32.5" lengthAdjust="spacingAndGlyphs" >6.42401</text>
<rect x="1170" y="335" width="38" height="11" fill="#0000ff" shape-rendering="crispEdges"/>
<text x="1174" y="343.9" font-size="9.9" fill="#fff" textLength="32.5" lengthAdjust="spacingAndGlyphs" >6.37007</text>
<rect x="1170" y="372" width="38" height="11" fill="#000" shape-rendering="crispEdges"/>
<text x="1174" y="380.9" font-size="9.9" fill="#fff" textLength="32.5" lengthAdjust="spacingAndGlyphs" >6.34404</text>
<g clip-path="url(#c2)">
<g shape-rendering="crispEdges">
<rect x="5" y="440" width="3" height="21" fill="#c0c0c0" />
<rect x="9" y="440" width="3" height="20" fill="#c0c0c0" />
<rect x="13" y="440" width="3" height="17" fill="#c0c0c0" />
<rect x="17" y="440" width="3" height="15" fill="#c0c0c0" />
<rect x="21" y="440" width="3" height="14" fill="#c0c0c0" />
<rect x="25" y="440" width="3" height="11" fill="#c0c0c0" />
<rect x="29" y="440" width="3" height="10" fill="#c0c0c0" />
<rect x="33" y="440" width="3" height="13" fill="#c0c0c0" />
<rect x="37" y="440" width="3" height="13" fill="#c0c0c0" />
<rect x="41" y="440" width="3" height="13" fill="#c0c0c0" />
<rect x="45" y="440" width="3" height="13" fill="#c0c0c0" />
<rect x="49" y="440" width="3" height="13" fill="#c0c0c0" />
<rect x="53" y="440" width="3" height="13" fill="#c0c0c0" />
<rect x="57" y="440" width="3" height="14" fill="#c0c0c0" />
<rect x="61" y="440" width="3" height="17" fill="#c0c0c0" />
<rect x="65" y="440" width="3" height="19" fill="#c0c0c0" />
<rect x="69" y="440" width="3" height="21" fill="#c0c0c0" />
<rect x="73" y="440" width="3" height="22" fill="#c0c0c0" />
<rect x="77" y="440" width="3" height="24" fill="#c0c0c0" />
<rect x="81" y="440" width="3" height="23" fill="#c0c0c0" />
<rect x="85" y="440" width="3" height="21" fill="#c0c0c0" />
<rect x="89" y="440" width="3" height="17" fill="#c0c0c0" />
<rect x="93" y="440" width="3" height="14" fill="#c0c0c0" />
<rect x="97" y="440" width="3" height="11" fill="#c0c0c0" />
<rect x="101" y="440" width="3" height="9" fill="#c0c0c0" />
<rect x="105" y="440" width="3" height="9" fill="#c0c0c0" />
<rect x="109" y="440" width="3" height="4" fill="#c0c0c0" />
<rect x="113" y="440" width="3" height="1" fill="#c0c0c0" />
<rect x="117" y="439" width="3" height="1" fill="#c0c0c0" />
<rect x="121" y="438" width="3" height="2" fill="#c0c0c0" />
<rect x="125" y="437" width="3" height="3" fill="#c0c0c0" />
<rect x="129" y="435" width="3" height="5" fill="#c0c0c0" />
<rect x="133" y="431" width="3" height="9" fill="#c0c0c0" />
<rect x="137" y="425" width="3" height="15" fill="#c0c0c0" />
<rect x="141" y="423" width="3" height="17" fill="#c0c0c0" />
<rect x="145" y="424" width="3" height="16" fill="#c0c0c0" />
<rect x="149" y="426" width="3" height="14" fill="#c0c0c0" />
<rect x="153" y="426" width="3" height="14" fill="#c0c0c0" />
<rect x="157" y="427" width="3" height="13" fill="#c0c0c0" />
<rect x="161" y="428" width="3" height="12" fill="#c0c0c0" />
<rect x="165" y="429" width="3" height="11" fill="#c0c0c0" />
<rect x="169" y="428" width="3" height="12" fill="#c0c0c0" />
<rect x="173" y="428" width="3" height="12" fill="#c0c0c0" />
<rect x="177" y="428" width="3" height="12" fill="#c0c0c0" />
<rect x="181" y="428" width="3" height="12" fill="#c0c0c0" />
<rect x="185" y="425" width="3" height="15" fill="#c0c0c0" />
<rect x="189" y="422" width="3" height="18" fill="#c0c0c0" />
<rect x="193" y="421" width="3" height="19" fill="#c0c0c0" />
<rect x="197" y="417" width="3" height="23" fill="#c0c0c0" />
<rect x="201" y="415" width="3" height="25" fill="#c0c0c0" />
<rect x="205" y="414" width="3" height="26" fill="#c0c0c0" />
<rect x="209" y="413" width="3" height="27" fill="#c0c0c0" />
<rect x="213" y="413" width="3" height="27" fill="#c0c0c0" />
<rect x="217" y="417" width="3" height="23" fill="#c0c0c0" />
<rect x="221" y="417" width="3" height="23" fill="#c0c0c0" />
<rect x="225" y="418" width="3" height="22" fill="#c0c0c0" />
<rect x="229" y="418" width="3" height="22" fill="#c0c0c0" />
<rect x="233" y="420" width="3" height="20" fill="#c0c0c0" />
<rect x="237" y="422" width="3" height="18" fill="#c0c0c0" />
<rect x="241" y="425" width="3" height="15" fill="#c0c0c0" />
<rect x="245" y="427" width="3" height="13" fill="#c0c0c0" />
<rect x="249" y="430" width="3" height="10" fill="#c0c0c0" />
<rect x="253" y="433" width="3" height="7" fill="#c0c0c0" />
<rect x="257" y="437" width="3" height="3" fill="#c0c0c0" />
<rect x="261" y="440" width="3" height="2" fill="#c0c0c0" />
<rect x="265" y="440" width="3" height="4" fill="#c0c0c0" />
<rect x="269" y="440" width="3" height="7" fill="#c0c0c0" />
<rect x="273" y="440" width="3" height="10" fill="#c0c0c0" />
<rect x="277" y="440" width="3" height="12" fill="#c0c0c0" />
<rect x="281" y="440" width="3" height="14" fill="#c0c0c0" />
<rect x="285" y="440" width="3" height="16" fill="#c0c0c0" />
<rect x="289" y="440" width="3" height="17" fill="#c0c0c0" />
<rect x="293" y="440" width="3" height="18" fill="#c0c0c0" />
<rect x="297" y="440" width="3" height="17" fill="#c0c0c0" />
<rect x="301" y="440" width="3" height="16" fill="#c0c0c0" />
<rect x="305" y="440" width="3" height="17" fill="#c0c0c0" />
<rect x="309" y="440" width="3" height="22" fill="#c0c0c0" />
<rect x="313" y="440" width="3" height="25" fill="#c0c0c0" />
<rect x="317" y="440" width="3" height="26" fill="#c0c0c0" />
<rect x="321" y="440" width="3" height="25" fill="#c0c0c0" />
<rect x="325" y="440" width="3" height="24" fill="#c0c0c0" />
<rect x="329" y="440" width="3" height="24" fill="#c0c0c0" />
<rect x="333" y="440" width="3" height="24" fill="#c0c0c0" />
<rect x="337" y="440" width="3" height="25" fill="#c0c0c0" />
<rect x="341" y="440" width="3" height="23" fill="#c0c0c0" />
<rect x="345" y="440" width="3" height="23" fill="#c0c0c0" />
<rect x="349" y="440" width="3" height="22" fill="#c0c0c0" />
<rect x="353" y="440" width="3" height="23" fill="#c0c0c0" />
<rect x="357" y="440" width="3" height="24" fill="#c0c0c0" />
<rect x="361" y="440" width="3" height="27" fill="#c0c0c0" />
<rect x="365" y="440" width="3" height="30" fill="#c0c0c0" />
<rect x="369" y="440" width="3" height="33" fill="#c0c0c0" />
<rect x="373" y="440" width="3" height="34" fill="#c0c0c0" />
<rect x="377" y="440" width="3" height="34" fill="#c0c0c0" />
<rect x="381" y="440" width="3" height="33" fill="#c0c0c0" />
<rect x="385" y="440" width="3" height="31" fill="#c0c0c0" />
<rect x="389" y="440" width="3" height="29" fill="#c0c0c0" />
<rect x="393" y="440" width="3" height="28" fill="#c0c0c0" />
<rect x="397" y="440" width="3" height="25" fill="#c0c0c0" />
<rect x="401" y="440" width="3" height="24" fill="#c0c0c0" />
<rect x="405" y="440" width="3" height="23" fill="#c0c0c0" />
<rect x="409" y="440" width="3" height="22" fill="#c0c0c0" />
<rect x="413" y="440" width="3" height="19" fill="#c0c0c0" />
<rect x="417" y="440" width="3" height="16" fill="#c0c0c0" />
<rect x="421" y="440" width="3" height="11" fill="#c0c0c0" />
<rect x="425" y="440" width="3" height="6" fill="#c0c0c0" />
<rect x="429" y="440" width="3" height="2" fill="#c0c0c0" />
<rect x="433" y="436" width="3" height="4" fill="#c0c0c0" />
<rect x="437" y="432" width="3" height="8" fill="#c0c0c0" />
<rect x="441" y="428" width="3" height="12" fill="#c0c0c0" />
<rect x="445" y="426" width="3" height="14" fill="#c0c0c0" />
<rect x="449" y="426" width="3" height="14" fill="#c0c0c0" />
<rect x="453" y="425" width="3" height="15" fill="#c0c0c0" />
<rect x="457" y="425" width="3" height="15" fill="#c0c0c0" />
<rect x="461" y="425" width="3" height="15" fill="#c0c0c0" />
<rect x="465" y="424" width="3" height="16" fill="#c0c0c0" />
<rect x="469" y="424" width="3" height="16" fill="#c0c0c0" />
<rect x="473" y="425" width="3" height="15" fill="#c0c0c0" />
<rect x="477" y="424" width="3" height="16" fill="#c0c0c0" />
<rect x="481" y="424" width="3" height="16" fill="#c0c0c0" />
<rect x="485" y="423" width="3" height="17" fill="#c0c0c0" />
<rect x="489" y="423" width="3" height="17" fill="#c0c0c0" />
<rect x="493" y="424" width="3" height="16" fill="#c0c0c0" />
<rect x="497" y="424" width="3" height="16" fill="#c0c0c0" />
<rect x="501" y="426" width="3" height="14" fill="#c0c0c0" />
<rect x="505" y="428" width="3" height="12" fill="#c0c0c0" />
<rect x="509" y="428" width="3" height="12" fill="#c0c0c0" />
<rect x="513" y="427" width="3" height="13" fill="#c0c0c0" />
<rect x="517" y="426" width="3" height="14" fill="#c0c0c0" />
<rect x="521" y="429" width="3" height="11" fill="#c0c0c0" />
<rect x="525" y="430" width="3" height="10" fill="#c0c0c0" />
<rect x="529" y="430" width="3" height="10" fill="#c0c0c0" />
<rect x="533" y="431" width="3" height="9" fill="#c0c0c0" />
<rect x="537" y="427" width="3" height="13" fill="#c0c0c0" />
<rect x="541" y="427" width="3" height="13" fill="#c0c0c0" />
<rect x="545" y="430" width="3" height="10" fill="#c0c0c0" />
<rect x="549" y="432" width="3" height="8" fill="#c0c0c0" />
<rect x="553" y="434" width="3" height="6" fill="#c0c0c0" />
<rect x="557" y="436" width="3" height="4" fill="#c0c0c0" />
<rect x="561" y="437" width="3" height="3" fill="#c0c0c0" />
<rect x="565" y="438" width="3" height="2" fill="#c0c0c0" />
<rect x="569" y="438" width="3" height="2" fill="#c0c0c0" />
<rect x="573" y="437" width="3" height="3" fill="#c0c0c0" />
<rect x="577" y="436" width="3" height="4" fill="#c0c0c0" />
<rect x="581" y="437" width="3" height="3" fill="#c0c0c0" />
<rect x="585" y="437" width="3" height="3" fill="#c0c0c0" />
<rect x="589" y="437" width="3" height="3" fill="#c0c0c0" />
<rect x="593" y="436" width="3" height="4" fill="#c0c0c0" />
<rect x="597" y="435" width="3" height="5" fill="#c0c0c0" />
<rect x="601" y="435" width="3" height="5" fill="#c0c0c0" />
<rect x="605" y="433" width="3" height="7" fill="#c0c0c0" />
<rect x="609" y="432" width="3" height="8" fill="#c0c0c0" />
<rect x="613" y="434" width="3" height="6" fill="#c0c0c0" />
<rect x="617" y="436" width="3" height="4" fill="#c0c0c0" />
<rect x="621" y="437" width="3" height="3" fill="#c0c0c0" />
<rect x="625" y="437" width="3" height="3" fill="#c0c0c0" />
<rect x="629" y="439" width="3" height="1" fill="#c0c0c0" />
<rect x="633" y="440" width="3" height="1" fill="#c0c0c0" />
<rect x="637" y="440" width="3" height="3" fill="#c0c0c0" />
<rect x="641" y="440" width="3" height="5" fill="#c0c0c0" />
<rect x="645" y="440" width="3" height="6" fill="#c0c0c0" />
<rect x="649" y="440" width="3" height="8" fill="#c0c0c0" />
<rect x="653" y="440" width="3" height="9" fill="#c0c0c0" />
<rect x="657" y="440" width="3" height="8" fill="#c0c0c0" />
<rect x="661" y="440" width="3" height="8" fill="#c0c0c0" />
<rect x="665" y="440" width="3" height="8" fill="#c0c0c0" />
<rect x="669" y="440" width="3" height="9" fill="#c0c0c0" />
<rect x="673" y="440" width="3" height="10" fill="#c0c0c0" />
<rect x="677" y="440" width="3" height="10" fill="#c0c0c0" />
<rect x="681" y="440" width="3" height="12" fill="#c0c0c0" />
<rect x="685" y="440" width="3" height="11" fill="#c0c0c0" />
<rect x="689" y="440" width="3" height="8" fill="#c0c0c0" />
<rect x="693" y="440" width="3" height="5" fill="#c0c0c0" />
<rect x="697" y="440" width="3" height="2" fill="#c0c0c0" />
<rect x="701" y="440" width="3" height="1" fill="#c0c0c0" />
<rect x="705" y="440" width="3" height="1" fill="#c0c0c0" />
<rect x="709" y="440" width="3" height="1" fill="#c0c0c0" />
<rect x="713" y="440" width="3" height="1" fill="#c0c0c0" />
<rect x="717" y="440" width="3" height="1" fill="#c0c0c0" />
<rect x="721" y="438" width="3" height="2" fill="#c0c0c0" />
<rect x="725" y="439" width="3" height="1" fill="#c0c0c0" />
<rect x="729" y="440" width="3" height="3" fill="#c0c0c0" />
<rect x="733" y="440" width="3" height="4" fill="#c0c0c0" />
<rect x="737" y="440" width="3" height="4" fill="#c0c0c0" />
<rect x="741" y="440" width="3" height="4" fill="#c0c0c0" />
<rect x="745" y="440" width="3" height="4" fill="#c0c0c0" />
<rect x="749" y="440" width="3" height="5" fill="#c0c0c0" />
<rect x="753" y="440" width="3" height="3" fill="#c0c0c0" />
<rect x="757" y="440" width="3" height="3" fill="#c0c0c0" />
<rect x="761" y="440" width="3" height="6" fill="#c0c0c0" />
<rect x="765" y="440" width="3" height="7" fill="#c0c0c0" />
<rect x="769" y="440" width="3" height="8" fill="#c0c0c0" />
<rect x="773" y="440" width="3" height="9" fill="#c0c0c0" />
<rect x="777" y="440" width="3" height="15" fill="#c0c0c0" />
<rect x="781" y="440" width="3" height="17" fill="#c0c0c0" />
<rect x="785" y="440" width="3" height="19" fill="#c0c0c0" />
<rect x="789" y="440" width="3" height="21" fill="#c0c0c0" />
<rect x="793" y="440" width="3" height="23" fill="#c0c0c0" />
<rect x="797" y="440" width="3" height="24" fill="#c0c0c0" />
<rect x="801" y="440" width="3" height="23" fill="#c0c0c0" />
<rect x="805" y="440" width="3" height="23" fill="#c0c0c0" />
<rect x="809" y="440" width="3" height="21" fill="#c0c0c0" />
<rect x="813" y="440" width="3" height="20" fill="#c0c0c0" />
<rect x="817" y="440" width="3" height="19" fill="#c0c0c0" />
<rect x="821" y="440" width="3" height="18" fill="#c0c0c0" />
<rect x="825" y="440" width="3" height="17" fill="#c0c0c0" />
<rect x="829" y="440" width="3" height="16" fill="#c0c0c0" />
<rect x="833" y="440" width="3" height="16" fill="#c0c0c0" />
<rect x="837" y="440" width="3" height="16" fill="#c0c0c0" />
<rect x="841" y="440" width="3" height="14" fill="#c0c0c0" />
<rect x="845" y="440" width="3" height="14" fill="#c0c0c0" />
<rect x="849" y="440" width="3" height="14" fill="#c0c0c0" />
<rect x="853" y="440" width="3" height="14" fill="#c0c0c0" />
<rect x="857" y="440" width="3" height="13" fill="#c0c0c0" />
<rect x="861" y="440" width="3" height="14" fill="#c0c0c0" />
<rect x="865" y="440" width="3" height="13" fill="#c0c0c0" />
<rect x="869" y="440" width="3" height="12" fill="#c0c0c0" />
<rect x="873" y="440" width="3" height="12" fill="#c0c0c0" />
<rect x="877" y="440" width="3" height="10" fill="#c0c0c0" />
<rect x="881" y="440" width="3" height="9" fill="#c0c0c0" />
<rect x="885" y="440" width="3" height="9" fill="#c0c0c0" />
<rect x="889" y="440" width="3" height="7" fill="#c0c0c0" />
<rect x="893" y="440" width="3" height="7" fill="#c0c0c0" />
<rect x="897" y="440" width="3" height="9" fill="#c0c0c0" />
<rect x="901" y="440" width="3" height="10" fill="#c0c0c0" />
<rect x="905" y="440" width="3" height="10" fill="#c0c0c0" />
<rect x="909" y="440" width="3" height="10" fill="#c0c0c0" />
<rect x="913" y="440" width="3" height="10" fill="#c0c0c0" />
<rect x="917" y="440" width="3" height="11" fill="#c0c0c0" />
<rect x="921" y="440" width="3" height="13" fill="#c0c0c0" />
<rect x="925" y="440" width="3" height="15" fill="#c0c0c0" />
</g>
<polyline fill="none" stroke="#ff0000" stroke-width="1" stroke-linejoin="round" shape-rendering="crispEdges" points="6.0,467.6 10.0,465.6 14.0,464.3 18.0,462.3 22.0,460.3 26.0,458.3 30.0,456.6 34.0,455.3 38.0,454.0 42.0,453.0 46.0,452.4 50.0,452.4 54.0,452.4 58.0,452.4 62.0,452.4 66.0,453.4 70.0,454.3 74.0,455.3 78.0,456.3 82.0,457.3 86.0,458.3 90.0,459.4 94.0,459.4 98.0,458.7 102.0,457.7 106.0,456.6 110.0,454.7 114.0,452.4 118.0,449.7 122.0,447.1 126.0,444.4 130.0,442.4 134.0,440.2 138.0,437.5 142.0,434.5 146.0,432.2 150.0,430.9 154.0,429.2 158.0,427.9 162.0,427.5 164.0,426.5 170.0,426.5 177.2,427.2 183.9,427.5 190.5,427.2 195.8,425.9 201.1,423.9 206.4,422.2 211.7,419.2 217.0,417.3 221.0,416.3 227.6,416.2 235.5,416.3 240.8,417.9 246.1,419.2 251.4,421.6 256.7,423.9 262.0,427.2 267.3,431.2 272.6,435.1 277.9,439.1 283.2,443.7 288.5,447.1 293.8,450.4 299.1,452.4 304.4,453.7 309.7,455.0 315.0,457.3 320.3,459.0 324.0,459.5 329.3,461.0 335.9,461.6 341.2,463.2 350.5,463.4 363.7,463.4 369.0,464.9 374.3,466.3 379.6,467.6 384.9,469.3 390.2,470.5 399.5,470.5 404.8,468.9 410.1,467.6 416.7,464.3 423.3,460.7 430.0,456.3 436.6,450.4 443.2,444.4 448.5,439.8 452.5,436.5 456.5,432.5 461.7,429.2 467.0,426.9 472.3,425.9 477.6,425.6 484.0,425.2 490.0,424.5 503.9,424.5 505.9,425.6 515.8,425.6 518.4,426.5 524.4,426.5 526.4,427.5 529.7,428.5 537.0,428.5 538.3,429.6 542.3,428.3 546.3,429.6 552.2,429.6 558.2,431.2 564.8,433.2 572.7,433.5 579.4,435.4 582.0,436.5 592.6,436.5 594.6,437.5 597.9,436.5 607.2,436.5 609.2,435.4 632.3,435.4 635.0,436.5 640.3,437.8 644.0,438.5 650.6,441.1 657.2,443.1 663.9,444.8 670.5,446.4 674.5,447.5 681.1,448.4 694.3,448.4 699.6,447.1 706.3,445.1 712.9,443.5 719.5,441.8 724.8,440.4 739.4,440.4 742.0,441.4 747.3,441.4 750.0,442.4 756.6,442.7 760.6,443.7 764.5,444.4 772.5,444.7 777.8,446.1 781.7,447.5 787.0,450.4 792.3,452.6 797.6,455.0 804.0,457.7 807.3,458.7 810.6,460.3 827.8,460.3 831.8,459.0 839.8,456.7 847.7,456.1 853.0,454.3 863.6,454.1 872.9,452.4 879.5,452.1 887.4,451.0 892.7,449.4 899.4,449.0 902.0,448.4 920.6,448.4 921.9,449.4 925.9,449.4"/>
</g>
<text x="10.4" y="420.7" font-size="9.9" fill="#000" textLength="152.8" lengthAdjust="spacingAndGlyphs" >MACD(12,26,9) -0.012115 -0.008511</text>
<text x="1171.6" y="418.6" font-size="9.9" fill="#000" textLength="32.5" lengthAdjust="spacingAndGlyphs" >0.02607</text>
<text x="1171.6" y="443.6" font-size="9.9" fill="#000" textLength="18" lengthAdjust="spacingAndGlyphs" >0.00</text>
<text x="1171.6" y="473.6" font-size="9.9" fill="#000" textLength="36" lengthAdjust="spacingAndGlyphs" >-0.03187</text>
<g clip-path="url(#c3)">
<line x1="7" y1="501.5" x2="1168" y2="501.5" stroke="#c0c0c0" stroke-width="1" stroke-dasharray="3,3" shape-rendering="crispEdges"/>
<line x1="7" y1="529.5" x2="1168" y2="529.5" stroke="#c0c0c0" stroke-width="1" stroke-dasharray="3,3" shape-rendering="crispEdges"/>
<polyline fill="none" stroke="#1e90ff" stroke-width="1" stroke-linejoin="round" shape-rendering="crispEdges" points="6.0,521.4 10.6,521.4 14.6,515.5 17.9,516.1 22.5,519.5 26.5,513.5 30.5,519.5 34.5,521.4 38.4,518.4 42.4,519.5 46.4,520.4 50.4,517.5 54.3,519.1 57.6,520.6 62.3,525.4 66.3,523.4 70.2,524.4 74.9,524.4 78.8,526.3 82.8,520.4 86.8,519.5 91.4,514.4 99.4,514.2 102.7,515.5 106.6,517.1 110.6,509.5 113.9,510.5 118.6,515.5 123.2,513.1 130.5,511.5 138.4,503.4 142.4,509.5 146.4,512.2 150.4,515.5 153.7,513.5 164.0,514.2 166.6,515.5 170.0,512.7 177.9,512.4 181.9,509.8 186.5,508.2 190.5,506.2 194.5,507.4 198.4,502.2 201.1,502.5 206.4,506.5 210.4,505.5 214.3,508.5 218.3,512.4 222.3,510.5 226.3,509.5 230.9,509.5 234.9,512.4 238.8,513.5 243.5,515.7 246.8,517.5 250.8,516.4 254.7,521.4 258.7,522.4 262.7,524.4 266.6,523.4 270.6,525.0 274.6,527.4 278.6,524.4 282.5,526.3 286.5,528.3 290.5,524.4 294.5,525.4 298.4,521.4 302.4,520.4 307.0,526.3 310.4,532.3 314.3,531.4 318.3,528.7 322.3,521.4 324.0,521.4 330.6,524.4 333.9,523.4 338.6,526.3 342.5,522.4 346.5,523.4 350.5,522.4 354.5,526.3 358.4,526.3 362.4,530.3 366.4,531.4 370.4,533.4 374.3,531.4 378.3,527.4 382.3,526.3 386.9,522.4 390.2,523.4 394.2,524.4 398.8,520.4 402.1,522.4 406.1,523.4 410.1,520.4 414.7,517.5 418.7,517.5 422.7,510.5 426.6,507.4 430.6,506.2 434.6,505.2 438.6,503.2 442.5,503.2 446.5,506.5 450.5,509.5 455.1,509.5 458.4,508.5 462.4,507.4 466.4,506.2 470.4,507.4 474.3,510.5 478.3,506.2 482.3,508.5 484.0,506.8 486.6,504.5 490.6,507.4 494.6,509.5 498.6,508.5 502.5,514.4 506.5,514.4 510.5,511.4 514.5,506.2 518.4,510.5 522.4,515.5 526.4,513.5 530.4,513.5 534.3,511.4 538.3,503.4 542.3,511.4 546.5,518.4 549.6,517.5 563.5,517.5 566.1,518.8 570.1,513.8 574.1,512.4 579.4,512.4 582.7,514.4 588.6,514.4 590.6,515.5 594.6,515.5 598.6,510.2 602.5,512.4 606.5,509.5 610.5,509.5 614.5,515.5 618.4,518.4 622.4,518.4 626.4,514.4 630.4,520.4 633.7,518.4 638.3,521.4 641.6,522.4 646.6,522.4 650.6,525.4 654.6,521.4 658.6,517.5 662.5,518.4 666.5,520.4 670.5,522.4 676.5,522.4 682.4,525.9 686.4,517.7 690.4,512.4 694.3,510.2 698.3,509.5 702.3,513.1 706.3,515.5 712.2,515.5 714.2,516.7 718.2,513.5 722.1,511.4 726.1,519.5 730.4,523.4 734.1,518.4 738.0,518.4 742.0,516.4 746.0,518.4 750.0,519.5 754.6,515.5 758.6,516.4 762.5,522.4 766.5,520.4 771.2,520.4 774.5,521.7 778.4,530.3 782.4,526.3 786.4,525.4 790.4,527.4 795.0,527.4 798.3,528.3 802.3,523.7 804.0,523.4 806.0,524.4 810.6,519.5 814.6,521.4 817.2,520.4 820.6,520.4 822.5,521.4 826.5,520.4 831.2,520.4 834.5,522.4 838.4,522.4 842.4,518.1 846.4,520.4 850.4,522.4 854.3,522.4 858.3,520.4 862.9,523.4 866.3,522.4 870.9,518.1 874.2,519.5 878.2,518.4 882.1,516.4 886.1,518.1 890.4,515.5 894.7,519.7 898.7,524.4 902.7,523.4 908.6,521.4 914.6,521.4 917.9,523.4 920.6,526.3 922.5,529.4 925.2,529.4"/>
</g>
<text x="10.4" y="491.7" font-size="9.9" fill="#000" textLength="67" lengthAdjust="spacingAndGlyphs" >RSI(14) 31.1181</text>
<text x="1171.6" y="490.0" font-size="9.9" fill="#000" textLength="15" lengthAdjust="spacingAndGlyphs" >100</text>
<text x="1171.6" y="505.0" font-size="9.9" fill="#000" textLength="10" lengthAdjust="spacingAndGlyphs" >70</text>
<text x="1171.6" y="533.0" font-size="9.9" fill="#000" textLength="10" lengthAdjust="spacingAndGlyphs" >30</text>
<text x="1171.6" y="548.0" font-size="9.9" fill="#000" textLength="5" lengthAdjust="spacingAndGlyphs" >0</text>
<g shape-rendering="crispEdges">
<rect x="6" y="552" width="1" height="3" fill="#000" />
<rect x="70" y="552" width="1" height="3" fill="#000" />
<rect x="134" y="552" width="1" height="3" fill="#000" />
<rect x="198" y="552" width="1" height="3" fill="#000" />
<rect x="262" y="552" width="1" height="3" fill="#000" />
<rect x="326" y="552" width="1" height="3" fill="#000" />
<rect x="390" y="552" width="1" height="3" fill="#000" />
<rect x="454" y="552" width="1" height="3" fill="#000" />
<rect x="518" y="552" width="1" height="3" fill="#000" />
<rect x="582" y="552" width="1" height="3" fill="#000" />
<rect x="646" y="552" width="1" height="3" fill="#000" />
<rect x="710" y="552" width="1" height="3" fill="#000" />
<rect x="774" y="552" width="1" height="3" fill="#000" />
<rect x="838" y="552" width="1" height="3" fill="#000" />
<rect x="902" y="552" width="1" height="3" fill="#000" />
</g>
<text x="5.3" y="564" font-size="9.9" fill="#000" textLength="48.7" lengthAdjust="spacingAndGlyphs" >20 Jan 2021</text>
<text x="69.3" y="564" font-size="9.9" fill="#000" textLength="51.3" lengthAdjust="spacingAndGlyphs" >11 Feb 2021</text>
<text x="133.3" y="564" font-size="9.9" fill="#000" textLength="45.4" lengthAdjust="spacingAndGlyphs" >5 Mar 2021</text>
<text x="197.3" y="564" font-size="9.9" fill="#000" textLength="50.7" lengthAdjust="spacingAndGlyphs" >29 Mar 2021</text>
<text x="261.3" y="564" font-size="9.9" fill="#000" textLength="49.7" lengthAdjust="spacingAndGlyphs" >21 Apr 2021</text>
<text x="325.3" y="564" font-size="9.9" fill="#000" textLength="53" lengthAdjust="spacingAndGlyphs" >13 May 2021</text>
<text x="389.3" y="564" font-size="9.9" fill="#000" textLength="43.5" lengthAdjust="spacingAndGlyphs" >4 Jun 2021</text>
<text x="453.3" y="564" font-size="9.9" fill="#000" textLength="49.7" lengthAdjust="spacingAndGlyphs" >28 Jun 2021</text>
<text x="517.3" y="564" font-size="9.9" fill="#000" textLength="45.7" lengthAdjust="spacingAndGlyphs" >20 Jul 2021</text>
<text x="581.3" y="564" font-size="9.9" fill="#000" textLength="52" lengthAdjust="spacingAndGlyphs" >11 Aug 2021</text>
<text x="645.3" y="564" font-size="9.9" fill="#000" textLength="46.4" lengthAdjust="spacingAndGlyphs" >2 Sep 2021</text>
<text x="709.3" y="564" font-size="9.9" fill="#000" textLength="50.7" lengthAdjust="spacingAndGlyphs" >24 Sep 2021</text>
<text x="773.3" y="564" font-size="9.9" fill="#000" textLength="49.6" lengthAdjust="spacingAndGlyphs" >18 Oct 2021</text>
<text x="837.3" y="564" font-size="9.9" fill="#000" textLength="48.3" lengthAdjust="spacingAndGlyphs" >9 Nov 2021</text>
<text x="901.3" y="564" font-size="9.9" fill="#000" textLength="46.2" lengthAdjust="spacingAndGlyphs" >1 Dec 2021</text>
<text x="18.200000000000003" y="588.8" font-size="12.4" fill="#7d7d7d" textLength="77" lengthAdjust="spacingAndGlyphs" >USDX,Weekly</text>
<text x="118.3" y="588.8" font-size="12.4" fill="#7d7d7d" textLength="84.2" lengthAdjust="spacingAndGlyphs" >EURUSD-,Daily</text>
<text x="225.2" y="588.8" font-size="12.4" fill="#7d7d7d" textLength="86.1" lengthAdjust="spacingAndGlyphs" >AUDUSD-,Daily</text>
<text x="334.90000000000003" y="588.8" font-size="12.4" fill="#7d7d7d" textLength="71.3" lengthAdjust="spacingAndGlyphs" >USDCHF-,H4</text>
<text x="429.90000000000003" y="588.8" font-size="12.4" fill="#7d7d7d" textLength="85.7" lengthAdjust="spacingAndGlyphs" >USDCAD-,Daily</text>
<text x="650.0" y="588.8" font-size="12.4" fill="#7d7d7d" textLength="85.4" lengthAdjust="spacingAndGlyphs" >XAUUSD-,Daily</text>
<text x="758.5" y="588.8" font-size="12.4" fill="#7d7d7d" textLength="55.4" lengthAdjust="spacingAndGlyphs" >UKOil-,H1</text>
<text x="839.2" y="588.8" font-size="12.4" fill="#7d7d7d" textLength="50.4" lengthAdjust="spacingAndGlyphs" >DJ30-,H1</text>
<text x="914.1" y="588.8" font-size="12.4" fill="#7d7d7d" textLength="73.5" lengthAdjust="spacingAndGlyphs" >UK100-,Daily</text>
<g shape-rendering="crispEdges">
<rect x="107" y="579" width="1" height="12" fill="#6e6e6e" />
<rect x="215" y="579" width="1" height="12" fill="#6e6e6e" />
<rect x="323" y="579" width="1" height="12" fill="#6e6e6e" />
<rect x="419" y="579" width="1" height="12" fill="#6e6e6e" />
<rect x="747" y="579" width="1" height="12" fill="#6e6e6e" />
<rect x="827" y="579" width="1" height="12" fill="#6e6e6e" />
<rect x="903" y="579" width="1" height="12" fill="#6e6e6e" />
<rect x="999" y="579" width="1" height="12" fill="#6e6e6e" />
<rect x="528" y="574" width="110" height="18" fill="#ffffff" />
<rect x="527" y="574" width="1" height="18" fill="#000" />
<rect x="638" y="574" width="1" height="18" fill="#000" />
<rect x="527" y="591" width="112" height="1" fill="#000" />
</g>
<text x="539.6" y="588.8" font-size="12.4" fill="#000" textLength="87" lengthAdjust="spacingAndGlyphs" >USDCNH-,Daily</text>
<path d="M1187.2,579.6 L1187.2,586.4 L1183.7,583 Z" fill="#9a9a9a"/>
<path d="M1203,579.6 L1203,586.4 L1206.5,583 Z" fill="#9a9a9a"/>
<g shape-rendering="crispEdges">
<rect x="99" y="0" width="24" height="21" fill="url(#chk)" />
<rect x="98" y="0" width="1" height="22" fill="#a0a0a0" />
<rect x="181" y="0" width="1" height="23" fill="#a0a0a0" />
</g>
<text x="-3.2" y="15.3" font-size="9.9" fill="#4f4f4f" textLength="11" lengthAdjust="spacingAndGlyphs" >15</text>
<text x="17.7" y="15.3" font-size="9.9" fill="#4f4f4f" textLength="17.6" lengthAdjust="spacingAndGlyphs" >M30</text>
<text x="48.5" y="15.3" font-size="9.9" fill="#4f4f4f" textLength="11.6" lengthAdjust="spacingAndGlyphs" >H1</text>
<text x="75.7" y="15.3" font-size="9.9" fill="#4f4f4f" textLength="12" lengthAdjust="spacingAndGlyphs" >H4</text>
<text x="104.6" y="15.3" font-size="9.9" fill="#4f4f4f" textLength="11.3" lengthAdjust="spacingAndGlyphs" >D1</text>
<text x="132" y="15.3" font-size="9.9" fill="#4f4f4f" textLength="14.2" lengthAdjust="spacingAndGlyphs" >W1</text>
<text x="158.6" y="15.3" font-size="9.9" fill="#4f4f4f" textLength="14.7" lengthAdjust="spacingAndGlyphs" >MN</text>
</svg>
</body></html>
